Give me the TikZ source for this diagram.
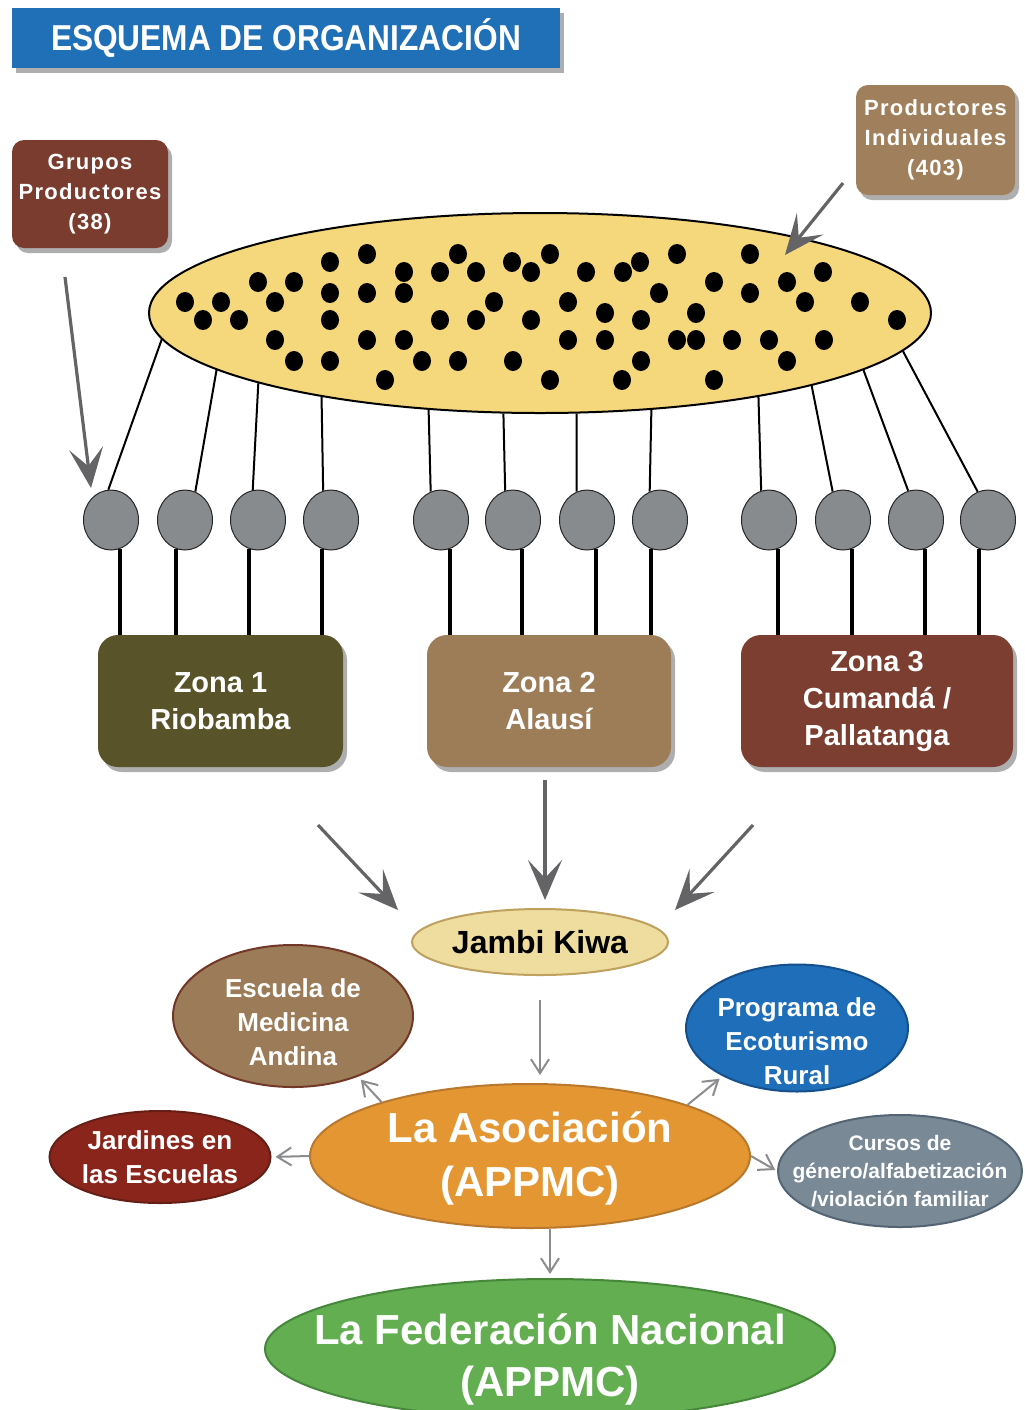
\documentclass[tikz,border=0pt]{standalone}
\usepackage{fontspec}
\setmainfont{Liberation Sans}
\newfontfamily\titlefont[FakeStretch=0.88]{Liberation Sans}
\usetikzlibrary{shapes.geometric, arrows.meta, shadows, calc}
\definecolor{titleblue}{RGB}{32,112,184}
\definecolor{grupos}{RGB}{122,60,46}
\definecolor{prodind}{RGB}{160,128,92}
\definecolor{poolfill}{RGB}{246,216,124}
\definecolor{gcircf}{RGB}{135,139,142}
\definecolor{zoneA}{RGB}{88,83,40}
\definecolor{zoneB}{RGB}{157,124,88}
\definecolor{zoneC}{RGB}{124,62,48}
\definecolor{arrowgray}{RGB}{100,100,102}
\definecolor{thingray}{RGB}{140,140,142}
\definecolor{jambiF}{RGB}{238,221,158}
\definecolor{jambiB}{RGB}{190,160,95}
\definecolor{escF}{RGB}{156,123,88}
\definecolor{escB}{RGB}{115,55,40}
\definecolor{progF}{RGB}{31,110,185}
\definecolor{progB}{RGB}{22,80,140}
\definecolor{jardF}{RGB}{138,37,28}
\definecolor{jardB}{RGB}{100,30,22}
\definecolor{asocF}{RGB}{227,150,50}
\definecolor{asocB}{RGB}{185,120,45}
\definecolor{cursF}{RGB}{122,137,150}
\definecolor{cursB}{RGB}{85,100,115}
\definecolor{fedF}{RGB}{98,174,80}
\definecolor{fedB}{RGB}{70,135,60}
\begin{document}
\begin{tikzpicture}[x=0.5pt,y=-0.5pt,
  shadowed/.style={drop shadow={shadow xshift=2pt,shadow yshift=-2.5pt,opacity=0.45,fill=black!70}},
  titlebox/.style={shadowed,fill=titleblue,text=white,inner sep=0pt,
    font=\titlefont\bfseries\fontsize{18}{20}\selectfont},
  smallbox/.style={shadowed,rounded corners=6pt,text=white,inner sep=0pt,align=center,
    font=\bfseries\fontsize{11}{15}\selectfont\addfontfeature{LetterSpace=6}},
  zonebox/.style={shadowed,rounded corners=10pt,text=white,inner sep=0pt,align=center,
    minimum height=66pt,font=\bfseries\fontsize{14.5}{18.5}\selectfont},
  gcirc/.style={ellipse,draw=black!85,line width=0.5pt,fill=gcircf,
    minimum width=27.5pt,minimum height=30pt,inner sep=0pt},
  oval/.style={ellipse,line width=1pt,inner sep=0pt},
  ovaltext/.style={text=white,align=center,inner sep=0pt,font=\bfseries\fontsize{13}{17}\selectfont},
  bigarrow/.style={draw=arrowgray,line width=1.6pt,-{Stealth[length=20pt,width=17pt,inset=9pt]}},
  thinarrow/.style={draw=thingray,line width=1pt,-{Straight Barb[length=7pt,width=9pt]}}
]
\fill[white] (0,0) rectangle (1024,1410);
\useasboundingbox (0,0) rectangle (1024,1410);

% title
\node[titlebox,minimum width=274pt,minimum height=30pt] (title) at (286,38) {ESQUEMA DE ORGANIZACIÓN};

% producer boxes
\node[smallbox,fill=grupos,minimum width=78pt,minimum height=54pt] (grupos) at (90,194) {Grupos\\Productores\\(38)};
\node[smallbox,fill=prodind,minimum width=79.5pt,minimum height=55pt] (prodind) at (935.5,140) {Productores\\Individuales\\(403)};

% pool of producers
\node[ellipse,draw=black,line width=1pt,fill=poolfill,minimum width=391pt,minimum height=100pt,inner sep=0pt] (pool) at (540,313) {};
\foreach \x/\y in {330/262,367/254,458/254,512/262,550/254,640/262,677/254,750/254,
  258/282,294/282,404/272,440/272,476/272,531/272,586/272,623/272,714/282,787/282,823/272,
  330/293,367/293,404/293,659/293,750/293,
  185/302,221/302,275/302,494/302,568/302,805/302,860/302,
  203/320,239/320,330/320,440/320,476/320,531/320,605/313,641/320,696/313,897/320,
  275/340,367/340,404/340,568/340,605/340,677/340,696/340,732/340,769/340,824/340,
  294/361,330/361,422/361,458/361,513/361,641/361,787/361,
  385/380,550/380,622/380,714/380}
  \fill[black] (\x,\y) ellipse [x radius=4.5pt,y radius=5pt];

% group circles
\foreach \i/\x in {1/111,2/185,3/258,4/331,5/441,6/513,7/587,8/660,9/769,10/843,11/916,12/988}
  \node[gcirc] (c\i) at (\x,520) {};

% zones
\node[zonebox,fill=zoneA,minimum width=122.5pt] (z1) at (220.5,701) {Zona 1\\Riobamba};
\node[zonebox,fill=zoneB,minimum width=122pt] (z2) at (549,701) {Zona 2\\Alausí};
\node[zonebox,fill=zoneC,minimum width=136pt] (z3) at (877,701) {Zona 3\\Cumandá /\\Pallatanga};

% lines pool -> circles
\foreach \i/\a/\b in {1/184.1/95,2/190.3/70,3/194.1/100,4/201/105,5/221.1/110,6/250.3/105,
  7/290.7/110,8/319.4/110,9/339.2/105,10/345.9/110,11/350.1/105,12/354.8/110}
  \draw[line width=1pt] (pool.\a) -- (c\i.\b);

% lines circles -> zones
\foreach \i/\a/\z in {1/-72/1,2/-108/1,3/-108/1,4/-108/1,5/-72/2,6/-72/2,7/-72/2,8/-108/2,
  9/-72/3,10/-72/3,11/-72/3,12/-108/3}
  \draw[line width=2pt] (c\i.\a) -- (c\i.\a |- z\z.north);

% big arrows
\coordinate (ga) at (65,277);
\coordinate (gt) at (91,488);
\coordinate (pa) at (843,183);
\coordinate (pt) at (785,255);
\draw[bigarrow] (ga) -- (gt);
\draw[bigarrow] (pa) -- (pt);

% Jambi Kiwa and lower ovals
\node[oval,draw=jambiB,fill=jambiF,minimum width=128pt,minimum height=33pt,
  font=\bfseries\fontsize{16}{19}\selectfont] (jambi) at (540,942) {Jambi Kiwa};

\coordinate (ja) at (318,825);
\coordinate (jt1) at (398,910);
\coordinate (jb) at (545,780);
\coordinate (jt2) at (545,900);
\coordinate (jc) at (753,825);
\coordinate (jt3) at (675,910);
\draw[bigarrow] (ja) -- (jt1);
\draw[bigarrow] (jb) -- (jt2);
\draw[bigarrow] (jc) -- (jt3);

\node[oval,draw=escB,fill=escF,minimum width=120pt,minimum height=71pt,
  label={[ovaltext,yshift=-3pt]center:{Escuela de\\Medicina\\Andina}}] (escuela) at (293,1016) {};
\node[oval,draw=progB,fill=progF,minimum width=111pt,minimum height=63.5pt,
  label={[ovaltext,yshift=-6.5pt]center:{Programa de\\Ecoturismo\\Rural}}] (prog) at (797,1028) {};
\node[oval,draw=jardB,fill=jardF,minimum width=110.5pt,minimum height=46pt,
  label={[ovaltext]center:{Jardines en\\las Escuelas}}] (jard) at (160,1157) {};
\node[oval,draw=asocB,fill=asocF,minimum width=220pt,minimum height=72pt,
  label={[ovaltext,font=\bfseries\fontsize{21}{27}\selectfont,yshift=-1pt]center:{La Asociación\\(APPMC)}}] (asoc) at (530,1156) {};
\node[oval,draw=cursB,fill=cursF,minimum width=122pt,minimum height=56pt,
  label={[ovaltext,font=\bfseries\fontsize{10.5}{14}\selectfont]center:{Cursos de\\género/alfabetización\\/violación familiar}}] (curs) at (900,1171) {};
\node[oval,draw=fedB,fill=fedF,minimum width=285pt,minimum height=70pt,
  label={[ovaltext,font=\bfseries\fontsize{21}{26}\selectfont,yshift=-5pt]center:{La Federación Nacional\\(APPMC)}}] (fed) at (550,1349) {};

% thin arrows
\draw[thinarrow,shorten <=12pt,shorten >=4pt] (jambi.south) -- (jambi.south |- asoc.north);
\draw[thinarrow,shorten >=2pt] (asoc.160.5) -- (escuela.-43.7);
\draw[thinarrow,shorten >=2pt] (asoc.18.3) -- (prog.213.4);
\draw[thinarrow,shorten >=2pt] (asoc.west) -- (jard.east);
\draw[thinarrow,shorten >=1pt] (asoc.east) -- (curs.west);
\draw[thinarrow,shorten >=2pt] (asoc.south -| fed.north) -- (fed.north);
\end{tikzpicture}
\end{document}
